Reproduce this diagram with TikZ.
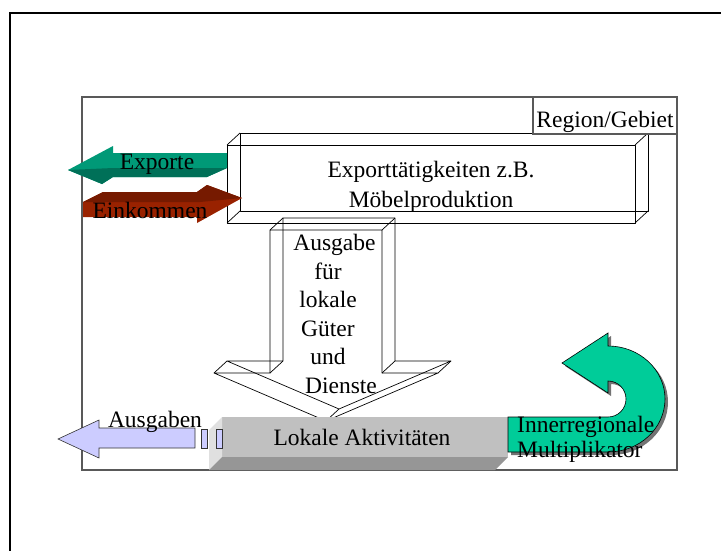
\documentclass[tikz,border=0pt]{standalone}
\usepackage{fontspec}
\setmainfont{Liberation Serif}
\definecolor{expL}{RGB}{0,153,119}
\definecolor{expD}{RGB}{0,112,88}
\definecolor{einL}{RGB}{153,34,0}
\definecolor{einD}{RGB}{118,26,0}
\definecolor{uG}{RGB}{0,204,153}
\definecolor{lav}{RGB}{204,204,255}
\definecolor{grF}{RGB}{192,192,192}
\definecolor{grL}{RGB}{224,224,224}
\definecolor{grB}{RGB}{150,150,150}
\begin{document}
\begin{tikzpicture}[x=1pt,y=-1pt,
  txt/.style={font=\fontsize{23.5}{28.5}\selectfont, inner sep=0pt, anchor=base},
  wire/.style={draw=black, line width=0.7pt, line join=round},
  regionline/.style={draw=black!65, line width=1.1pt}]
\useasboundingbox (0,0) rectangle (721,550);
% outer frame
\draw[line width=2.6pt] (10,570) -- (10,13) -- (740,13);
% region box
\draw[regionline] (82,97) rectangle (677,470);
% export activities box (wireframe)
\draw[wire] (227,145) rectangle (635,223);
\draw[wire] (240,133) rectangle (648,211);
\draw[wire] (227,145) -- (240,133) (635,145) -- (648,133)
            (635,223) -- (648,211) (227,223) -- (240,211);
% label box
\draw[regionline, fill=white] (533,97) rectangle (677,134);
% down arrow (wireframe)
\draw[wire] (270,230) -- (382,230) -- (382,373) -- (438,373) -- (326,421) -- (214,373) -- (270,373) -- cycle;
\draw[wire] (283,218) -- (395,218) -- (395,361) -- (451,361) -- (339,409) -- (227,361) -- (283,361) -- cycle;
\draw[wire] (270,230) -- (283,218) (382,230) -- (395,218) (382,373) -- (395,361)
            (438,373) -- (451,361) (326,421) -- (339,409) (214,373) -- (227,361) (270,373) -- (283,361);
% Exporte arrow
\fill[expL] (227,153) -- (113,153) -- (113,146) -- (68,170) -- (102,184) -- (113,177) -- (207,177) -- (227,168) -- cycle;
\fill[expD] (68,170) -- (113,168) -- (227,168) -- (207,177) -- (113,177) -- (102,184) -- cycle;
% Einkommen arrow
\fill[einL] (83,202) -- (103,192) -- (197,192) -- (207,185) -- (242,198) -- (197,223) -- (197,217) -- (83,217) -- cycle;
\fill[einD] (83,202) -- (103,192) -- (197,192) -- (207,185) -- (242,198) -- (200,202) -- cycle;
% lokale Aktivitaeten box
\fill[grF] (222,417) rectangle (508,457);
\fill[grL] (222,417) -- (209,430) -- (209,470) -- (222,457) -- cycle;
\fill[grB] (222,457) -- (508,457) -- (495,470) -- (209,470) -- cycle;
% Ausgaben arrow
\filldraw[fill=lav, draw=black!80, line width=0.6pt] (195,428) -- (99,428) -- (99,420) -- (58,439) -- (99,458) -- (99,448) -- (195,448) -- cycle;
\filldraw[fill=lav, draw=black!80, line width=0.6pt] (201,429) rectangle (207,448);
\filldraw[fill=lav, draw=black!80, line width=0.6pt] (216,429) rectangle (222,448);
% U-turn multiplier arrow
\fill[black!55, shift={(3,3)}] (508,417) -- (608,417) arc[start angle=90, end angle=-90, x radius=18, y radius=18]
   -- (608,393) -- (562,363) -- (608,333) -- (608,346)
   arc[start angle=-90, end angle=90, x radius=57, y radius=53] -- (508,452) -- cycle;
\filldraw[fill=uG, draw=black, line width=0.6pt] (508,417) -- (608,417) arc[start angle=90, end angle=-90, x radius=18, y radius=18]
   -- (608,393) -- (562,363) -- (608,333) -- (608,346)
   arc[start angle=-90, end angle=90, x radius=57, y radius=53] -- (508,452) -- cycle;
% texts
\node[txt] (region) at (605,127) {Region/Gebiet};
\node[txt, align=center, font=\fontsize{23.5}{30}\selectfont] (export) at (431,207) {Exporttätigkeiten z.B.\\Möbelproduktion};
\node[txt] (exporte) at (157,169) {Exporte};
\node[txt] (einkommen) at (150,218) {Einkommen};
\node[txt, align=center] (ausgabe) at (328,393) {\hspace*{13pt}Ausgabe\\für\hspace*{10pt}\\lokale\hspace*{4pt}\\Güter\hspace*{4pt}\\und\hspace*{10pt}\\\hspace*{26pt}Dienste};
\node[txt] (ausgaben) at (155,427) {Ausgaben};
\node[txt] (lokale) at (362,445) {Lokale Aktivitäten};
\node[txt, anchor=base west, align=left, font=\fontsize{23.5}{25}\selectfont] (inner) at (517,457) {Innerregionale\\Multiplikator};
\end{tikzpicture}
\end{document}
